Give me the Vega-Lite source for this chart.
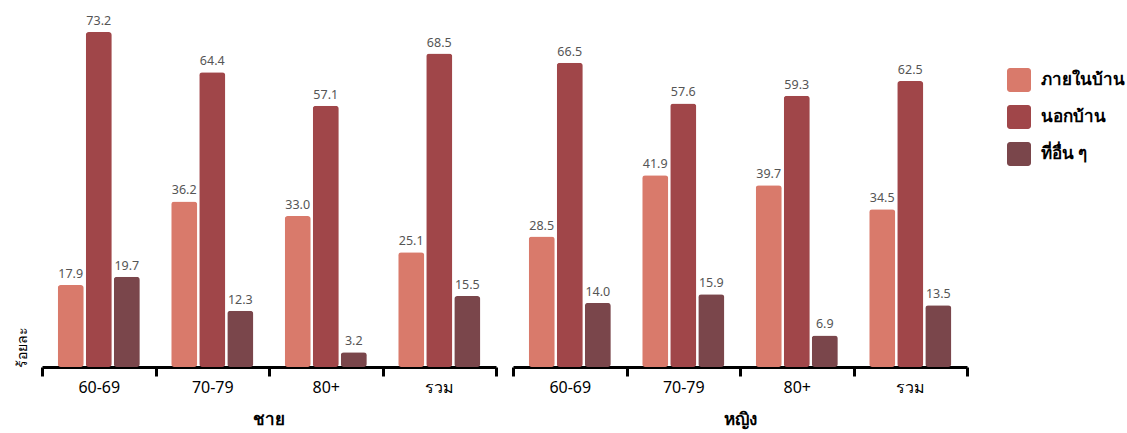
{
  "$schema": "https://vega.github.io/schema/vega-lite/v6.json",
  "background": "white",
  "padding": {"left": 15, "top": 1, "right": 5, "bottom": 2},
  "data": {"values": [
    {"sex": "ชาย", "age": "60-69", "place": "ภายในบ้าน", "pct": 17.9},
    {"sex": "ชาย", "age": "60-69", "place": "นอกบ้าน", "pct": 73.2},
    {"sex": "ชาย", "age": "60-69", "place": "ที่อื่น ๆ", "pct": 19.7},
    {"sex": "ชาย", "age": "70-79", "place": "ภายในบ้าน", "pct": 36.2},
    {"sex": "ชาย", "age": "70-79", "place": "นอกบ้าน", "pct": 64.4},
    {"sex": "ชาย", "age": "70-79", "place": "ที่อื่น ๆ", "pct": 12.3},
    {"sex": "ชาย", "age": "80+", "place": "ภายในบ้าน", "pct": 33.0},
    {"sex": "ชาย", "age": "80+", "place": "นอกบ้าน", "pct": 57.1},
    {"sex": "ชาย", "age": "80+", "place": "ที่อื่น ๆ", "pct": 3.2},
    {"sex": "ชาย", "age": "รวม", "place": "ภายในบ้าน", "pct": 25.1},
    {"sex": "ชาย", "age": "รวม", "place": "นอกบ้าน", "pct": 68.5},
    {"sex": "ชาย", "age": "รวม", "place": "ที่อื่น ๆ", "pct": 15.5},
    {"sex": "หญิง", "age": "60-69", "place": "ภายในบ้าน", "pct": 28.5},
    {"sex": "หญิง", "age": "60-69", "place": "นอกบ้าน", "pct": 66.5},
    {"sex": "หญิง", "age": "60-69", "place": "ที่อื่น ๆ", "pct": 14.0},
    {"sex": "หญิง", "age": "70-79", "place": "ภายในบ้าน", "pct": 41.9},
    {"sex": "หญิง", "age": "70-79", "place": "นอกบ้าน", "pct": 57.6},
    {"sex": "หญิง", "age": "70-79", "place": "ที่อื่น ๆ", "pct": 15.9},
    {"sex": "หญิง", "age": "80+", "place": "ภายในบ้าน", "pct": 39.7},
    {"sex": "หญิง", "age": "80+", "place": "นอกบ้าน", "pct": 59.3},
    {"sex": "หญิง", "age": "80+", "place": "ที่อื่น ๆ", "pct": 6.9},
    {"sex": "หญิง", "age": "รวม", "place": "ภายในบ้าน", "pct": 34.5},
    {"sex": "หญิง", "age": "รวม", "place": "นอกบ้าน", "pct": 62.5},
    {"sex": "หญิง", "age": "รวม", "place": "ที่อื่น ๆ", "pct": 13.5}
  ]},
  "facet": {
    "column": {
      "field": "sex", "type": "nominal", "sort": ["ชาย", "หญิง"],
      "header": {"title": null, "labelOrient": "bottom", "labelFontSize": 17, "labelFontWeight": "bold", "labelColor": "black", "labelPadding": 17, "labelFont": "Noto Sans"}
    }
  },
  "spacing": 17,
  "spec": {
    "width": 454,
    "height": 366,
    "encoding": {
      "x": {
        "field": "age", "type": "nominal", "sort": ["60-69", "70-79", "80+", "รวม"],
        "scale": {"paddingInner": 0, "paddingOuter": 0},
        "axis": {"title": null, "labelAngle": 0, "labelFontSize": 16, "labelColor": "black", "labelPadding": 3, "labelFont": "Noto Sans",
                 "domainColor": "black", "domainWidth": 3, "tickColor": "black", "tickWidth": 3, "tickSize": 9, "tickBand": "extent"}
      },
      "xOffset": {"field": "place", "type": "nominal", "sort": ["ภายในบ้าน", "นอกบ้าน", "ที่อื่น ๆ"], "scale": {"paddingInner": 0.0714, "paddingOuter": 0.56}},
      "y": {
        "field": "pct", "type": "quantitative", "scale": {"domain": [0, 80]},
        "axis": {"title": "ร้อยละ", "labels": false, "ticks": false, "domain": false, "grid": false, "titleAnchor": "start", "titleFontSize": 14, "titleFontWeight": "normal", "titleColor": "black", "titlePadding": 13, "titleFont": "Noto Sans"}
      }
    },
    "layer": [
      {
        "mark": {"type": "bar", "cornerRadius": 3},
        "encoding": {
          "color": {
            "field": "place", "type": "nominal", "sort": ["ภายในบ้าน", "นอกบ้าน", "ที่อื่น ๆ"],
            "scale": {"domain": ["ภายในบ้าน", "นอกบ้าน", "ที่อื่น ๆ"], "range": ["#D97A6B", "#A04649", "#7A464B"]},
            "legend": {"title": null, "orient": "none", "legendX": 965, "legendY": 67,
                       "symbolType": "M-0.75,-1H0.75A0.25,0.25 0 0 1 1,-0.75V0.75A0.25,0.25 0 0 1 0.75,1H-0.75A0.25,0.25 0 0 1 -1,0.75V-0.75A0.25,0.25 0 0 1 -0.75,-1Z",
                       "symbolSize": 576, "symbolStrokeWidth": 0, "symbolOpacity": 1, "labelFontSize": 17, "labelFontWeight": "bold", "labelColor": "black", "labelFont": "Noto Sans", "rowPadding": 13, "labelOffset": 10}
          }
        }
      },
      {
        "mark": {"type": "text", "baseline": "bottom", "dy": -4, "fontSize": 12.5, "color": "#555555", "font": "Noto Sans"},
        "encoding": {"text": {"field": "pct", "type": "quantitative", "format": ".1f"}}
      }
    ]
  },
  "config": {"view": {"stroke": null}}
}
